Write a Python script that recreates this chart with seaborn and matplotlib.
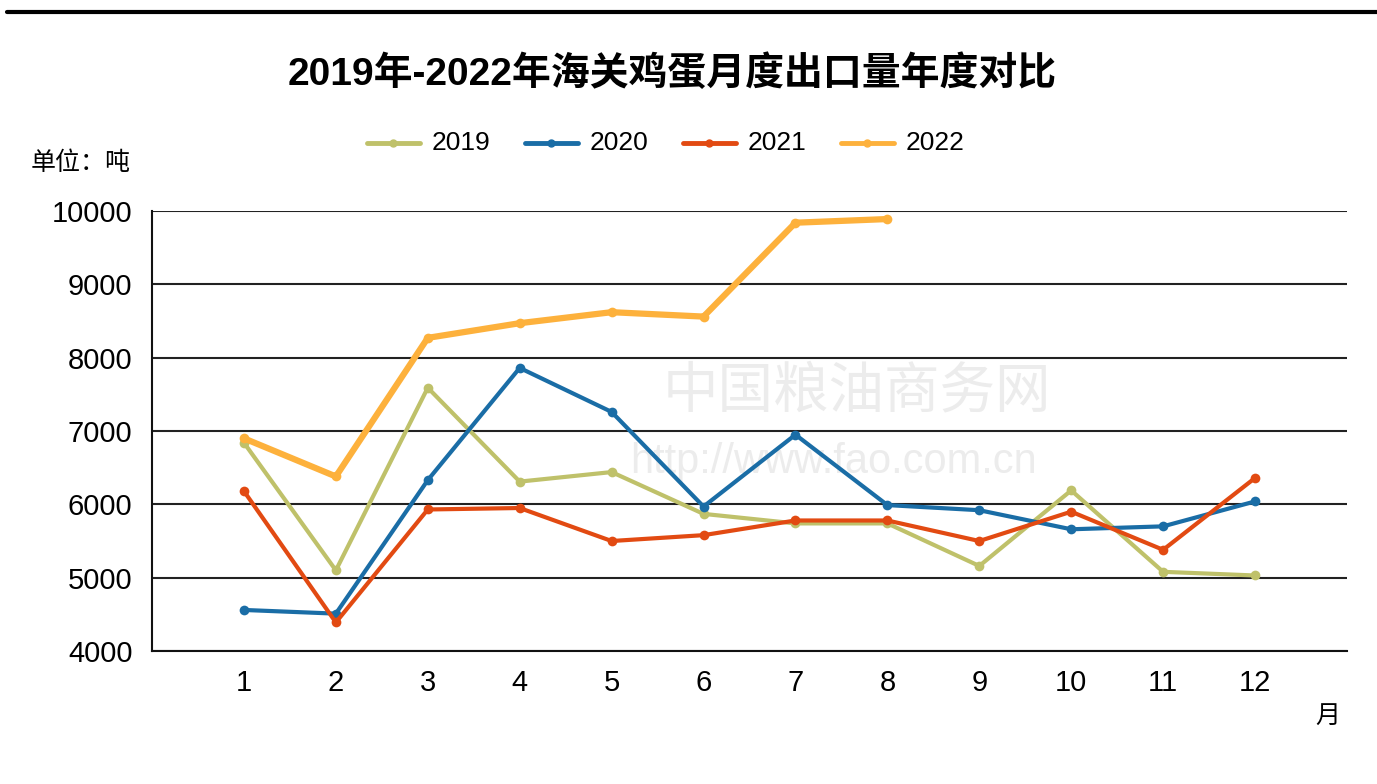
import pandas as pd
import matplotlib.pyplot as plt
import seaborn as sns

# monthly egg export volume (tons)
months = list(range(1, 13))
v2019 = [6840, 5100, 7590, 6310, 6440, 5870, 5740, 5740, 5160, 6190, 5080, 5030]
v2020 = [4560, 4510, 6330, 7860, 7260, 5970, 6950, 5990, 5920, 5660, 5700, 6040]
v2021 = [6180, 4390, 5930, 5950, 5500, 5580, 5780, 5780, 5500, 5900, 5380, 6360]
v2022 = [6900, 6380, 8270, 8470, 8620, 8560, 9840, 9890]
years = ['2019', '2020', '2021', '2022']
colors = ['#bfc16a', '#1a6da6', '#e24a12', '#fdb13c']

rows = []
for yr, vals in zip(years, [v2019, v2020, v2021, v2022]):
    for m, v in zip(months, vals):
        rows.append({'month': m, 'value': v, 'year': yr})
df = pd.DataFrame(rows)

sns.set_style('white')
plt.rcParams['font.family'] = ['Liberation Sans', 'Noto Sans CJK SC', 'DejaVu Sans']
plt.rcParams['text.color'] = 'black'
plt.rcParams['xtick.color'] = 'black'
plt.rcParams['ytick.color'] = 'black'

fig = plt.figure(figsize=(13.77, 7.84), dpi=100)
ax = fig.add_axes([0.1104, 0.1696, 0.8678, 0.5613])

sns.lineplot(data=df, x='month', y='value', hue='year', palette=colors,
             marker='o', markersize=7, markeredgewidth=0, ax=ax, legend=False)
for line, lw in zip(ax.get_lines(), [3, 3, 3, 4.5]):
    line.set_linewidth(lw)

ax.set_xlim(0, 13)
ax.set_ylim(4000, 10000)
ax.set_xticks(months + [13])
ax.set_xticklabels([str(m) for m in months] + [''])
ax.set_yticks(range(4000, 10001, 1000))
ax.set_xlabel('')
ax.set_ylabel('')
ax.grid(axis='y', color='#222222', linewidth=1.5)
ax.set_axisbelow(True)
for s in ['top', 'right']:
    ax.spines[s].set_visible(False)
for s in ['left', 'bottom']:
    ax.spines[s].set_color('#111111')
    ax.spines[s].set_linewidth(1.5)
ax.tick_params(axis='both', length=11, width=1.2, color='#111111', labelsize=21, pad=3)
ax.tick_params(axis='x', pad=2)

# watermark
ax.text(0.59, 0.585, '中国粮油商务网', transform=ax.transAxes, fontsize=40,
        color='#ececec', ha='center', va='center', zorder=0)
ax.text(0.57, 0.43, 'http://www.fao.com.cn', transform=ax.transAxes, fontsize=30,
        color='#ececec', ha='center', va='center', zorder=0)

# legend
for i, (yr, c) in enumerate(zip(years, colors)):
    x0 = 0.2665 + i * 0.1147
    fig.lines.append(plt.Line2D([x0, x0 + 0.0385], [0.817, 0.817], transform=fig.transFigure,
                                color=c, linewidth=3.5))
    fig.lines.append(plt.Line2D([x0 + 0.019], [0.817], transform=fig.transFigure,
                                color=c, marker='o', markersize=5))
    fig.text(x0 + 0.047, 0.817, yr, fontsize=19, va='center', ha='left')

fig.text(0.488, 0.905, '2019年-2022年海关鸡蛋月度出口量年度对比', fontsize=28,
         fontweight='bold', ha='center', va='center')
fig.text(0.022, 0.792, '单位：吨', fontsize=18, ha='left', va='center')
fig.text(0.955, 0.087, '月', fontsize=18, ha='left', va='center')

# top border line
fig.lines.append(plt.Line2D([0.005, 1.0], [0.985, 0.985], transform=fig.transFigure,
                            color='black', linewidth=3))

fig.savefig('out.png', dpi=100)
